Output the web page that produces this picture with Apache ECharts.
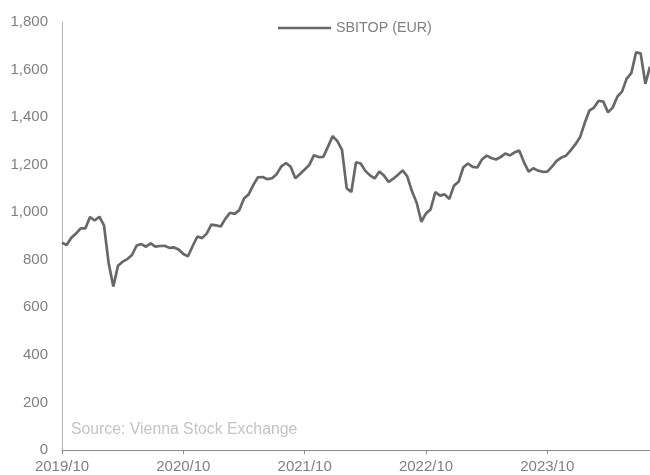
<!doctype html>
<html lang="en">
<head>
	<title>SBITOP</title>
	<meta charset="utf-8" />
	<script src="https://cdn.jsdelivr.net/npm/echarts@6/dist/echarts.min.js"></script>
	<style>
		html, body { margin: 0; padding: 0; background: #fff; }
	</style>
</head>

<body>
	<div id="main" style="width: 650px; height: 475px;"></div>
	<script>
		// x axis tick labels, one every 26 points (roughly every two weeks)
		var tickLabels = ['2019/10', '2020/10', '2021/10', '2022/10', '2023/10'];
		var pointsPerYear = 26;

		// SBITOP (EUR)
		var sbitop = [
			872, 862, 893, 910, 932, 932, 980, 965, 981, 945,
			785, 688, 775, 792, 803, 820, 860, 866, 855, 869,
			855, 858, 859, 850, 852, 843, 824, 815, 858, 898,
			891, 910, 948, 945, 940, 972, 998, 993, 1009, 1058,
			1075, 1115, 1147, 1148, 1139, 1143, 1160, 1193, 1207, 1191,
			1143, 1161, 1180, 1199, 1240, 1232, 1233, 1276, 1320, 1299,
			1262, 1101, 1085, 1210, 1205, 1174, 1155, 1142, 1171, 1154,
			1127, 1141, 1158, 1176, 1150, 1088, 1040, 960, 995, 1013,
			1085, 1070, 1075, 1056, 1112, 1128, 1189, 1205, 1191, 1188,
			1222, 1238, 1228, 1222, 1232, 1247, 1239, 1252, 1259, 1210,
			1171, 1185, 1175, 1170, 1171, 1192, 1216, 1230, 1238, 1260,
			1285, 1315, 1375, 1427, 1440, 1469, 1465, 1420, 1440, 1486,
			1507, 1562, 1585, 1672, 1668, 1540, 1612
		];

		var categories = sbitop.map(function (v, i) {
			return i % pointsPerYear === 0 ? tickLabels[i / pointsPerYear] : '';
		});

		var labelColor = '#808080';
		var lineColor = '#686868';
		var fontFamily = 'Liberation Sans, Arial, sans-serif';

		var myChart = echarts.init(document.getElementById('main'));
		var option = {
			animation: false,
			grid: {
				left: 62,
				right: 0,
				top: 22,
				bottom: 25
			},
			legend: {
				left: 278,
				top: 21,
				padding: 0,
				itemWidth: 53,
				itemHeight: 2.6,
				icon: 'rect',
				itemStyle: { color: lineColor },
				textStyle: { color: labelColor, fontSize: 14.3, fontFamily: fontFamily },
				data: ['SBITOP (EUR)']
			},
			graphic: [{
				type: 'text',
				left: 71,
				top: 422,
				style: {
					text: 'Source: Vienna Stock Exchange',
					fill: '#c4c4c4',
					fontSize: 15.8,
					fontFamily: fontFamily
				}
			}],
			xAxis: {
				type: 'category',
				boundaryGap: false,
				data: categories,
				axisLine: { lineStyle: { color: '#8c8c8c', width: 1 } },
				axisTick: { show: true, interval: pointsPerYear - 1, length: 4, lineStyle: { color: '#8c8c8c' } },
				axisLabel: {
					interval: pointsPerYear - 1,
					color: labelColor,
					fontSize: 15,
					fontFamily: fontFamily,
					margin: 9
				},
				splitLine: { show: false }
			},
			yAxis: {
				type: 'value',
				min: 0,
				max: 1800,
				interval: 200,
				axisLine: { show: true, lineStyle: { color: '#b5b5b5', width: 1 } },
				axisTick: { show: false },
				splitLine: { show: false },
				axisLabel: {
					color: labelColor,
					fontSize: 15,
					fontFamily: fontFamily,
					margin: 14,
					formatter: function (v) {
						return v.toLocaleString('en-US');
					}
				}
			},
			series: [{
				name: 'SBITOP (EUR)',
				type: 'line',
				data: sbitop,
				symbol: 'none',
				lineStyle: { color: lineColor, width: 2.7 },
				itemStyle: { color: lineColor }
			}]
		};
		myChart.setOption(option);
	</script>
</body>
</html>
